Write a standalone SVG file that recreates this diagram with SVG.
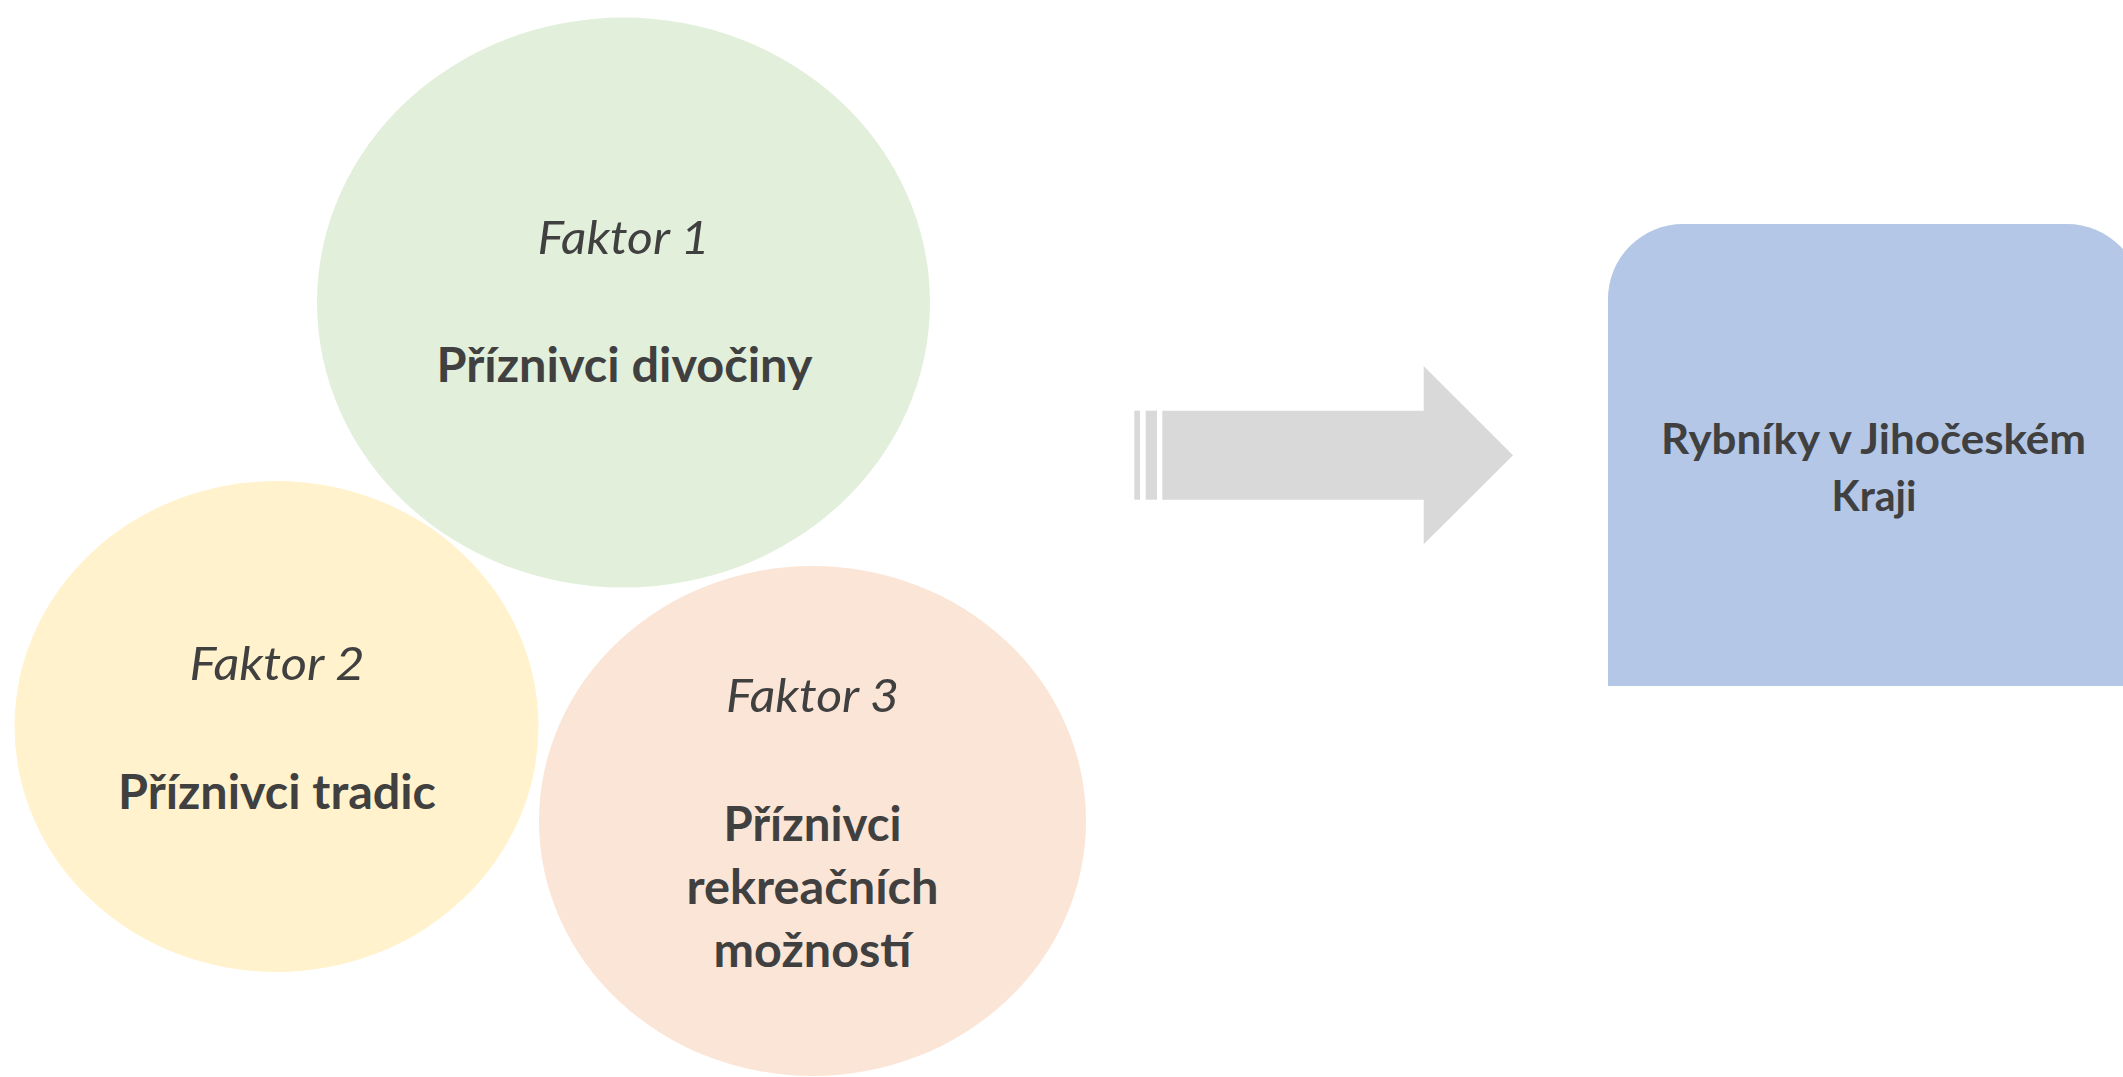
<svg xmlns="http://www.w3.org/2000/svg" width="2123" height="1077" viewBox="0 0 2123 1077">
<style>
.t{font-family:Lato,"Open Sans","Liberation Sans",sans-serif;fill:#404040;text-anchor:middle}
.f{font-style:italic;font-weight:400;font-size:46.5px}
.b{font-weight:700;font-size:47px}
.bb{font-weight:700;font-size:42.5px}
</style>
<rect width="2123" height="1077" fill="#FFFFFF"/>
<g id="node-faktor1">
<ellipse cx="623.5" cy="302.6" rx="306.5" ry="285" fill="#E2EFDA"/>
<text class="t f" x="623.5" y="254" textLength="172" lengthAdjust="spacingAndGlyphs">Faktor 1</text>
<text class="t b" x="624.5" y="382" textLength="376" lengthAdjust="spacingAndGlyphs">Příznivci divočiny</text>
</g>
<g id="node-faktor2">
<ellipse cx="276.5" cy="726.5" rx="262" ry="245.5" fill="#FFF2CC"/>
<text class="t f" x="277" y="680" textLength="175" lengthAdjust="spacingAndGlyphs">Faktor 2</text>
<text class="t b" x="277" y="809" textLength="318" lengthAdjust="spacingAndGlyphs">Příznivci tradic</text>
</g>
<g id="node-faktor3">
<ellipse cx="812.5" cy="821" rx="273.5" ry="255" fill="#FBE5D6"/>
<text class="t f" x="812.5" y="712" textLength="173" lengthAdjust="spacingAndGlyphs">Faktor 3</text>
<text class="t b" x="812.5" y="841" textLength="178" lengthAdjust="spacingAndGlyphs">Příznivci</text>
<text class="t b" x="812.5" y="904" textLength="252" lengthAdjust="spacingAndGlyphs">rekreačních</text>
<text class="t b" x="812.5" y="967" textLength="198" lengthAdjust="spacingAndGlyphs">možností</text>
</g>
<g id="connectors">
<rect x="1134.3" y="410.7" width="5.7" height="89" fill="#D9D9D9"/>
<rect x="1145.7" y="410.7" width="11.3" height="89" fill="#D9D9D9"/>
<polygon points="1162.3,410.7 1423.7,410.7 1423.7,366 1513,455.3 1423.7,544.3 1423.7,499.7 1162.3,499.7" fill="#D9D9D9"/>
</g>
<g id="node-rybniky">
<path d="M1608,686 V299 A75,75 0 0 1 1683,224 H2067 A75,75 0 0 1 2142,299 V686 Z" fill="#B4C7E7"/>
<text class="t bb" x="1873.5" y="454" textLength="425" lengthAdjust="spacingAndGlyphs">Rybníky v Jihočeském</text>
<text class="t bb" x="1874" y="511" textLength="85" lengthAdjust="spacingAndGlyphs">Kraji</text>
</g>
</svg>
